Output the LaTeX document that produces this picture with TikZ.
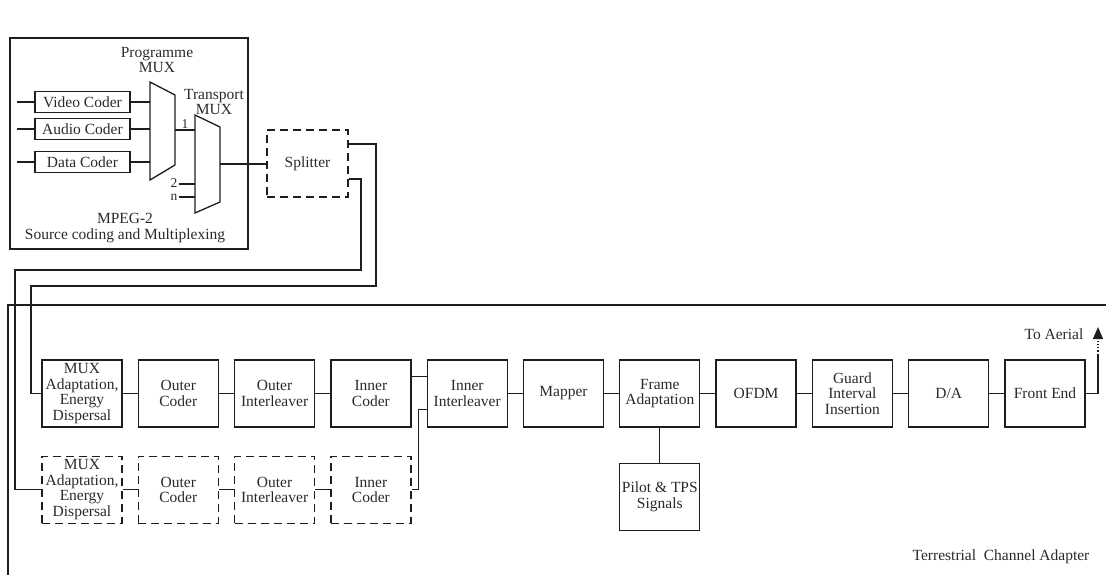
\documentclass[tikz,border=0pt]{standalone}
\usepackage{fontspec}
\setmainfont{Liberation Serif}
\usetikzlibrary{arrows.meta,positioning}
\definecolor{ink}{HTML}{1E1E1E}
\definecolor{inktext}{HTML}{2A2A2A}

\begin{document}
\begin{tikzpicture}[x=1pt,y=-1pt,
  every node/.style={font=\fontsize{15.5}{15.5}\selectfont, text=inktext},
  block/.style={rectangle, draw=ink, line width=1.3pt, minimum width=80pt, minimum height=67pt, align=center, inner sep=1pt},
  ghost/.style={block, dash pattern=on 8pt off 5pt},
  coder/.style={rectangle, draw=ink, line width=1.3pt, minimum width=95pt, minimum height=21pt, inner sep=1pt},
  wire/.style={draw=ink, line width=1.3pt},
  tag/.style={inner sep=0pt, align=center},
  pin/.style={tag, font=\fontsize{13.5}{13.5}\selectfont}
]
\useasboundingbox (0,0) rectangle (1106,578);

% MPEG-2 source coding and multiplexing
\draw[wire] (10,38) rectangle (248,249);
\node[coder] (video) at (82.5,102) {Video Coder};
\node[coder] (audio) at (82.5,129) {Audio Coder};
\node[coder] (data)  at (82.5,162) {Data Coder};

\coordinate (pmux) at (150,82);
\coordinate (pmuxout) at (175,130);
\coordinate (tmux) at (195,115);
\coordinate (tmuxout) at (220,164);
\draw[wire] (150,82) -- (175,95) -- (175,165) -- (150,180) -- cycle;
\draw[wire] (195,115) -- (220,127) -- (220,202) -- (195,213) -- cycle;

\node[tag] (pmuxlbl) at (157,60) {Programme\\MUX};
\node[tag] (tmuxlbl) at (214,102) {Transport\\MUX};
\node[tag] (mpeglbl) at (125,228) {MPEG-2\\Source coding and Multiplexing};

\draw[wire] (video.west) -- ++(-17,0);
\draw[wire] (audio.west) -- ++(-17,0);
\draw[wire] (data.west)  -- ++(-17,0);
\draw[wire] (video.east) -- (video.east -| pmux);
\draw[wire] (audio.east) -- (audio.east -| pmux);
\draw[wire] (data.east)  -- (data.east -| pmux);
\draw[wire] (pmuxout) -- node[pin, above=1pt]{1} (pmuxout -| tmux);
\coordinate (in2) at (195,184);
\coordinate (inn) at (195,197);
\draw[wire] (in2) -- ++(-16,0) node[pin, left=1pt, yshift=1pt]{2};
\draw[wire] (inn) -- ++(-16,0) node[pin, left=1pt, yshift=-0.5pt]{n};

\node[ghost, minimum width=81pt] (split) at (307.5,163.5) {Splitter};
\draw[wire] (tmuxout) -- (tmuxout -| split.west);

% terrestrial channel adapter
\draw[wire] (1106,305) -- (8,305) -- (8,575);
\node[tag] (tcalbl) at (1001,557) {Terrestrial\ \ Channel Adapter};

\node[block] (madapt) at (82,393.5) {MUX\\Adaptation,\\Energy\\Dispersal};
\node[block, right=15pt of madapt] (ocoder) {Outer\\Coder};
\node[block, right=15pt of ocoder] (oleave) {Outer\\Interleaver};
\node[block, right=15pt of oleave] (icoder) {Inner\\Coder};
\node[block, right=15pt of icoder] (ileave) {Inner\\Interleaver};
\node[block, right=15pt of ileave] (mapper) {Mapper};
\node[block, right=15pt of mapper] (frame)  {Frame\\Adaptation};
\node[block, right=15pt of frame]  (ofdm)   {OFDM};
\node[block, right=15pt of ofdm]   (guard)  {Guard\\Interval\\Insertion};
\node[block, right=15pt of guard]  (dac)    {D/A};
\node[block, right=15pt of dac]    (fend)   {Front End};
\node[block, below=35pt of frame]  (pilot)  {Pilot \& TPS\\Signals};

\node[ghost, below=28pt of madapt] (gmadapt) {MUX\\Adaptation,\\Energy\\Dispersal};
\node[ghost, below=28pt of ocoder] (gocoder) {Outer\\Coder};
\node[ghost, below=28pt of oleave] (goleave) {Outer\\Interleaver};
\node[ghost, below=28pt of icoder] (gicoder) {Inner\\Coder};

\draw[wire] ([yshift=19.5pt]split.east) -- (376,144) -- (376,286) -- (31,286) |- (madapt.west);
\draw[wire] ([yshift=-15.5pt]split.east) -- (361,179) -- (361,270) -- (15,270) |- (gmadapt.west);

\draw[wire] (madapt) -- (ocoder);
\draw[wire] (ocoder) -- (oleave);
\draw[wire] (oleave) -- (icoder);
\draw[wire] ([yshift=17pt]icoder.east) -- ([yshift=17pt]ileave.west);
\draw[wire] (ileave) -- (mapper);
\draw[wire] (mapper) -- (frame);
\draw[wire] (frame)  -- (ofdm);
\draw[wire] (ofdm)   -- (guard);
\draw[wire] (guard)  -- (dac);
\draw[wire] (dac)    -- (fend);
\draw[wire] (frame)  -- (pilot);

\draw[wire] (gmadapt) -- (gocoder);
\draw[wire] (gocoder) -- (goleave);
\draw[wire] (goleave) -- (gicoder);
\draw[wire] (gicoder.east) -- ++(7,0) |- ([yshift=-16pt]ileave.west);

\coordinate (aerial) at (1098,327);
\draw[wire] (fend.east) -| (1098,355) coordinate (dotstart);
\draw[wire, dotted, -{Triangle[length=12pt,width=10pt]}] (dotstart) -- (aerial);
\node[tag] (aeriallbl) at (1054,334) {To Aerial};
\end{tikzpicture}
\end{document}
